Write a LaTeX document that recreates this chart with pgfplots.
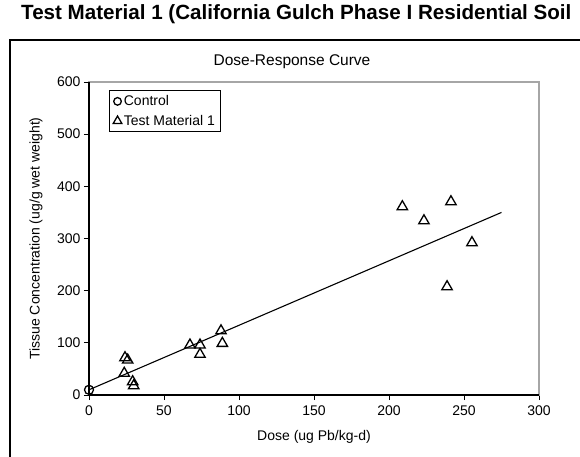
\documentclass[border=0pt]{standalone}
\usepackage{pgfplots}
\pgfplotsset{compat=1.18}
\usepackage{fontspec}
\setmainfont{Liberation Sans}
\newcommand{\lbl}{\fontsize{14}{16}\selectfont}
\begin{document}
\begin{tikzpicture}[x=1pt,y=1pt]
\useasboundingbox (-89,-61) rectangle (491,395);
\clip (-89,-61) rectangle (491,395);
% outer chart frame (cropped at right and bottom)
\draw[black, line width=1.2pt] (-79,-80) -- (-79,355) -- (520,355);
\node[anchor=west, inner sep=0pt, font=\fontsize{20.6}{24}\selectfont\bfseries] at (-68,381) {Test Material 1 (California Gulch Phase I Residential Soil};
\node[font=\fontsize{15.5}{18}\selectfont] at (203,333) {Dose-Response Curve};
\begin{axis}[
  scale only axis, width=450pt, height=313pt,
  xmin=0, xmax=300, ymin=0, ymax=600,
  xtick={0,50,...,300}, ytick={0,100,...,600},
  xtick pos=bottom, ytick pos=left,
  tick align=outside, major tick length=5pt,
  tick style={black, line width=0.8pt},
  axis line style={gray!70, line width=1.2pt},
  ticklabel style={font=\lbl},
  xticklabel style={yshift=-2pt},
  /pgf/number format/assume math mode=true,
  xlabel={Dose (ug Pb/kg-d)},
  ylabel={Tissue Concentration (ug/g wet weight)},
  label style={font=\lbl},
  xlabel style={at={(rel axis cs:0.5,0)}, anchor=center, yshift=-42pt},
  ylabel style={at={(rel axis cs:0,0.5)}, anchor=center, yshift=53pt},
  legend style={at={(rel axis cs:0.044,0.974)}, anchor=north west, draw=black, line width=0.8pt, font=\lbl, inner xsep=4pt, inner ysep=3pt, row sep=4pt},
  legend cell align=left,
  clip=false,
]
\draw[black, line width=1.2pt] (rel axis cs:0,1) -- (rel axis cs:0,0) -- (rel axis cs:1,0);
% fitted line
\addplot[black, line width=1.1pt, forget plot] coordinates {(0,10) (275,350)};
\addplot[only marks, mark=o, mark size=4.5pt, mark options={draw=black, fill=white, line width=1.3pt},
  legend image post style={mark size=3.8pt}] coordinates {(0,10)};
\addlegendentry{Control}
\addplot[only marks, mark=triangle, mark size=6pt, mark options={draw=black, fill=none, line width=1.3pt},
  legend image post style={mark size=5pt}] coordinates {
  (24,71.5) (25.8,67) (23.5,41.6) (29.1,25.5) (29.8,17.8)
  (67.3,95.8) (74,95.8) (74,78) (88,123) (88.9,99)
  (208.9,361) (241.3,370.5) (223.3,334) (255.3,292) (238.7,207.6)
};
\addlegendentry{Test Material 1}
\end{axis}
\end{tikzpicture}
\end{document}
